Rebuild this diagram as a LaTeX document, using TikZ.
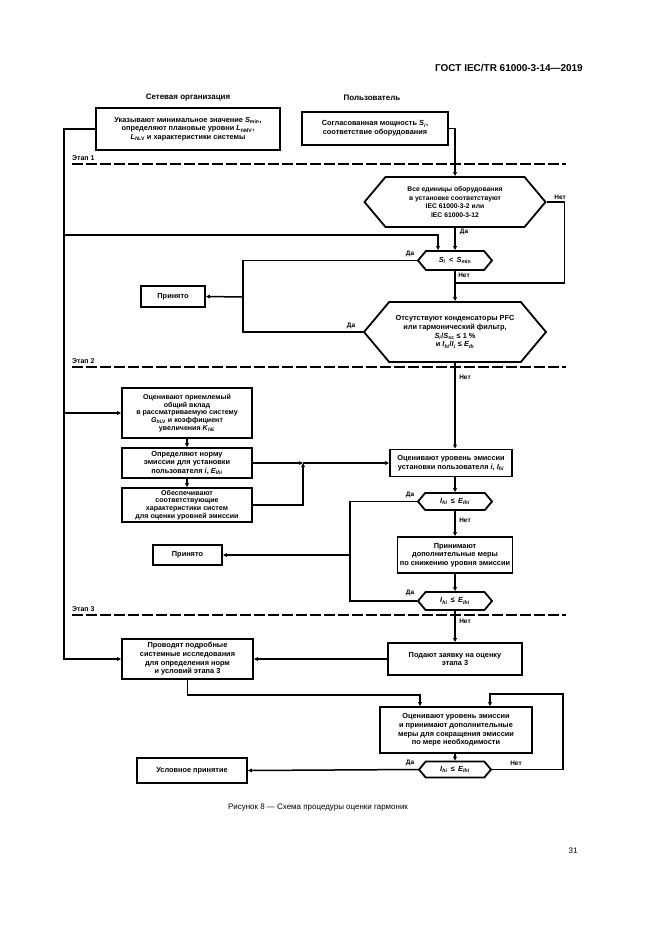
\documentclass[tikz,border=0pt]{standalone}
\usepackage{fontspec}
\setmainfont{Liberation Sans}
\usetikzlibrary{shapes.symbols,arrows.meta}
\newcommand{\lsub}[1]{\textsubscript{#1}}
\newcommand{\vi}[1]{\textit{#1}}
\newcommand{\bxfont}{\fontsize{7.4}{8.7}\selectfont\bfseries}
\newcommand{\tightfont}{\fontsize{7.1}{7.9}\selectfont\bfseries}
\newcommand{\smfont}{\fontsize{6.8}{8.4}\selectfont\bfseries}
\newcommand{\lblfont}{\fontsize{6.5}{7}\selectfont\bfseries}
\begin{document}
\begin{tikzpicture}[x=1bp,y=-1bp,
  box/.style={draw,line width=1.8bp,align=center,inner sep=0.5bp,font=\bxfont},
  hex/.style={draw,line width=1.8bp,shape=signal,signal to=east and west,signal pointer angle=100,align=center,inner sep=0pt,font=\bxfont},
  conn/.style={line width=1.5bp},
  arr/.style={conn,-{Triangle[length=4bp,width=3.6bp]}},
  stageline/.style={dash pattern=on 11bp off 3bp,line width=1.1bp},
  lbl/.style={font=\lblfont,inner sep=0pt},
  head/.style={font=\fontsize{8}{9}\selectfont\bfseries,inner sep=0pt},
  stagelbl/.style={font=\fontsize{7}{8}\selectfont\bfseries,anchor=south west,inner sep=0pt}
]
\fill[white] (0,0) rectangle (661,935);
\useasboundingbox (0,0) rectangle (661,935);

% page header, caption, page number
\node[font=\fontsize{10}{12}\selectfont\bfseries,anchor=east,inner sep=0pt] (gost) at (583,68) {ГОСТ IEC/TR 61000-3-14—2019};
\node[font=\fontsize{8}{10}\selectfont,inner sep=0pt] (cap) at (318,808) {Рисунок 8 — Схема процедуры оценки гармоник};
\node[font=\fontsize{8}{10}\selectfont,inner sep=0pt] (pg) at (573,851) {31};

% column headers
\node[head] (hnet) at (188,98) {Сетевая организация};
\node[head] (huser) at (372,98) {Пользователь};

% stage lines
\node[stagelbl] (st1) at (72,161) {Этап 1};
\draw[stageline] (72,164) -- (566,164);
\node[stagelbl] (st2) at (72,364) {Этап 2};
\draw[stageline] (72,367) -- (566,367);
\node[stagelbl] (st3) at (72,612) {Этап 3};
\draw[stageline] (72,615) -- (566,615);

% boxes
\node[box,minimum width=184bp,minimum height=42bp] (net) at (188,129)
 {Указывают минимальное значение \vi{S}\lsub{min},\\ определяют плановые уровни \vi{L}\lsub{\vi{h}MV},\\ \vi{L}\lsub{\vi{h}LV} и характеристики системы};
\node[box,minimum width=146bp,minimum height=33bp] (user) at (375,128.5)
 {Согласованная мощность \vi{S}\lsub{\vi{i}},\\ соответствие оборудования};

\node[hex,font=\smfont,minimum width=181bp,minimum height=50bp] (h1) at (455,202)
 {Все единицы оборудования\\ в установке соответствуют\\ IEC 61000-3-2 или\\ IEC 61000-3-12};
\node[hex,minimum width=74bp,minimum height=19bp] (smin) at (455,260.5)
 {\vi{S}\lsub{\vi{i}} \,<\, \vi{S}\lsub{min}};
\node[box,minimum width=64bp,minimum height=21bp] (acc1) at (173,296.5) {Принято};
\node[hex,minimum width=182bp,minimum height=60bp] (h3) at (455,332)
 {Отсутствуют конденсаторы PFC\\ или гармонический фильтр,\\ \vi{S}\lsub{\vi{i}}/\vi{S}\lsub{sc} ≤ 1 \%\\ и \vi{I}\lsub{\vi{hi}}/\vi{I}\lsub{\vi{i}} ≤ \vi{E}\lsub{\vi{Ih}}};

\node[box,font=\tightfont,minimum width=130bp,minimum height=50bp] (A) at (187,413)
 {Оценивают приемлемый\\ общий вклад\\ в рассматриваемую систему\\ \vi{G}\lsub{\vi{h}LV} и коэффициент\\ увеличения \vi{K}\lsub{\vi{h}E}};
\node[box,minimum width=130bp,minimum height=30bp] (B) at (187,463)
 {Определяют норму\\ эмиссии для установки\\ пользователя \vi{i}, \vi{E}\lsub{\vi{Ihi}}};
\node[box,font=\tightfont,minimum width=130bp,minimum height=34bp] (C) at (187,505)
 {Обеспечивают\\ соответствующие\\ характеристики систем\\ для оценки уровней эмиссии};
\node[box,minimum width=122bp,minimum height=27bp] (D) at (451,463)
 {Оценивают уровень эмиссии\\ установки пользователя \vi{i}, \vi{I}\lsub{\vi{hi}}};
\node[hex,minimum width=74bp,minimum height=17bp] (h4) at (455,501.5)
 {\vi{I}\lsub{\vi{hi}} \,≤\, \vi{E}\lsub{\vi{Ihi}}};
\node[box,minimum width=69bp,minimum height=20bp] (acc2) at (187.5,555) {Принято};
\node[box,minimum width=115bp,minimum height=36bp] (E) at (455,555)
 {Принимают\\ дополнительные меры\\ по снижению уровня эмиссии};
\node[hex,minimum width=74bp,minimum height=18bp] (h5) at (455,601)
 {\vi{I}\lsub{\vi{hi}} \,≤\, \vi{E}\lsub{\vi{Ihi}}};

\node[box,minimum width=131bp,minimum height=40bp] (F) at (187.5,659)
 {Проводят подробные\\ системные исследования\\ для определения норм\\ и условий этапа 3};
\node[box,minimum width=134bp,minimum height=32bp] (G) at (455,659)
 {Подают заявку на оценку\\ этапа 3};
\node[box,minimum width=152bp,minimum height=46bp] (H) at (456,730)
 {Оценивают уровень эмиссии\\ и принимают дополнительные\\ меры для сокращения эмиссии\\ по мере необходимости};
\node[hex,minimum width=72bp,minimum height=16bp] (h6) at (455,769.5)
 {\vi{I}\lsub{\vi{hi}} \,≤\, \vi{E}\lsub{\vi{Ihi}}};
\node[box,minimum width=110bp,minimum height=25bp] (acc3) at (192,770.5) {Условное принятие};

% junction coordinates
\coordinate (j1) at (65,235);
\coordinate (j2) at (65,413);
\coordinate (k1) at (455,283);
\coordinate (j5) at (243,297);
\coordinate (m) at (303,463);
\coordinate (j6) at (350,555);
\coordinate (j8) at (563,694);

% connectors
\draw[arr] (net.west) -- ++(-31,0) |- (F.west);
\draw[arr] (j1) -| ([xshift=-17bp]smin.north);
\draw[arr] (j2) -- (A.west);
\draw[arr] (user.east) -| (h1.north);
\draw[arr] (h1.south) -- (smin.north);
\draw[conn] (h1.east) -- ++(18,0) |- (k1);
\draw[arr] (smin.south) -- (h3.north);
\draw[conn] (smin.west) -| (j5) |- (h3.west);
\draw[arr] (j5) -- (acc1.east);
\draw[arr] (h3.south) -- (h3.south |- D.north);
\draw[arr] (A.south) -- (B.north);
\draw[arr] (B.south) -- (C.north);
\draw[arr] (B.east) -- (m);
\draw[arr] (C.east) -| (m);
\draw[arr] (m) -- (D.west);
\draw[arr] (D.south -| h4.north) -- (h4.north);
\draw[conn] (h4.west) -| (j6) |- (h5.west);
\draw[arr] (j6) -- (acc2.east);
\draw[arr] (h4.south) -- (E.north);
\draw[arr] (E.south) -- (h5.north);
\draw[arr] (h5.south) -- (G.north);
\draw[arr] (G.west) -- (F.east);
\draw[arr] (F.south) -- ++(0,15) -| ([xshift=-36bp]H.north);
\draw[arr] (H.south -| h6.north) -- (h6.north);
\draw[arr] (h6.west) -- (acc3.east);
\draw[arr] (h6.east) -| (j8) -| ([xshift=34bp]H.north);

% branch labels
\node[lbl] (l1) at (560,197) {Нет};
\node[lbl] (l2) at (464,232) {Да};
\node[lbl] (l3) at (410,254) {Да};
\node[lbl] (l4) at (464,275) {Нет};
\node[lbl] (l5) at (351,326) {Да};
\node[lbl] (l6) at (465,377) {Нет};
\node[lbl] (l7) at (410,495) {Да};
\node[lbl] (l8) at (465,520) {Нет};
\node[lbl] (l9) at (410,593) {Да};
\node[lbl] (l10) at (465,621) {Нет};
\node[lbl] (l11) at (410,763) {Да};
\node[lbl] (l12) at (516,763) {Нет};
\end{tikzpicture}
\end{document}
